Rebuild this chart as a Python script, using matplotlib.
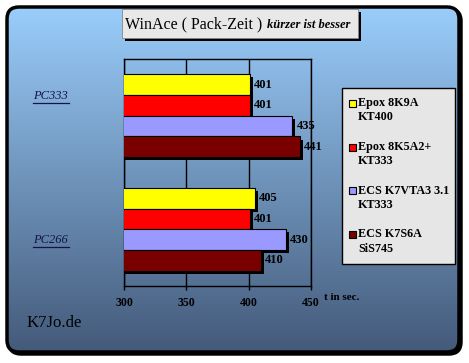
import numpy as np
import matplotlib
matplotlib.use('Agg')
import matplotlib.pyplot as plt
from matplotlib.patches import FancyBboxPatch, Rectangle
import matplotlib.patheffects as pe
from matplotlib.colors import to_rgb

# ---------------- data ----------------
categories = ['PC333', 'PC266']
series = ['Epox 8K9A\nKT400', 'Epox 8K5A2+\nKT333',
          'ECS K7VTA3 3.1\nKT333', 'ECS K7S6A\nSiS745']
values = [[401, 405],   # Epox 8K9A
          [401, 401],   # Epox 8K5A2+
          [435, 430],   # ECS K7VTA3
          [441, 410]]   # ECS K7S6A
colors = ['#FFFF00', '#FF0000', '#9999FF', '#7A0000']
x_ticks = [300, 350, 400, 450]
title_main = 'WinAce ( Pack-Zeit )'
title_sub = 'kürzer ist besser'
x_unit = 't in sec.'
credit = 'K7Jo.de'

plt.rcParams['font.family'] = ['Liberation Serif', 'DejaVu Serif']

W, H = 469, 363
fig = plt.figure(figsize=(W / 100, H / 100), dpi=100)
fig.patch.set_facecolor('white')

# background axes in pixel coordinates
bg = fig.add_axes([0, 0, 1, 1], zorder=0)
bg.set_xlim(0, W)
bg.set_ylim(H, 0)
bg.axis('off')

# frame with shadow
fx0, fy0, fx1, fy1 = 7, 7, 459, 352
shadow = FancyBboxPatch((fx0 + 2, fy0 + 2), fx1 - fx0, fy1 - fy0,
                        boxstyle='round,pad=0,rounding_size=12',
                        fc='black', ec='black', lw=2.5, zorder=1)
bg.add_patch(shadow)
frame = FancyBboxPatch((fx0, fy0), fx1 - fx0, fy1 - fy0,
                       boxstyle='round,pad=0,rounding_size=12',
                       fc='none', ec='black', lw=2.5, zorder=3)
bg.add_patch(frame)
top_c = np.array(to_rgb('#9ACDFB'))
bot_c = np.array(to_rgb('#445A7A'))
t = np.linspace(0, 1, 256)[:, None]
grad = (top_c[None, :] * (1 - t) + bot_c[None, :] * t)[:, None, :]
im = bg.imshow(grad, extent=[fx0, fx1, fy1, fy0], aspect='auto', zorder=2,
               interpolation='bilinear')
clip = FancyBboxPatch((fx0, fy0), fx1 - fx0, fy1 - fy0,
                      boxstyle='round,pad=0,rounding_size=12',
                      fc='none', ec='none', transform=bg.transData)
im.set_clip_path(clip)

# title box
bg.add_patch(Rectangle((125, 12), 236, 29, fc='black', ec='none', zorder=4))
bg.add_patch(Rectangle((122, 9), 236, 29, fc='#E8E8E8', ec='#888888',
                       lw=0.6, zorder=5))
bg.text(125, 24.5, title_main, fontsize=11.5, va='center', ha='left', zorder=6)
bg.text(267, 25.5, title_sub, fontsize=9, fontweight='bold', style='italic',
        va='center', ha='left', zorder=6)

# main axes
ax = fig.add_axes([124 / W, 1 - 286 / H, 187 / W, 227 / H], zorder=2)
ax.set_facecolor('none')
h = 0.1825
ypos_base = np.arange(len(categories))
for j, (ser, vals, col) in enumerate(zip(series, values, colors)):
    ys = ypos_base + (j - 1.5) * h
    ax.barh(ys, vals, height=h, color=col, edgecolor='black', linewidth=0.8,
            zorder=3,
            path_effects=[pe.SimplePatchShadow(offset=(2.2, -2.2),
                                               shadow_rgbFace='black',
                                               alpha=1.0),
                          pe.Normal()])
    for y, v in zip(ys, vals):
        ax.annotate(str(v), (v, y), xytext=(3, 0), textcoords='offset points',
                    va='center', ha='left', fontsize=9, fontweight='bold',
                    zorder=4)
ax.set_xlim(x_ticks[0], x_ticks[-1])
ax.set_ylim(1.5, -0.5)
ax.set_xticks(x_ticks)
ax.set_yticks([])
ax.grid(axis='x', color='black', lw=1)
ax.set_axisbelow(True)
for s in ax.spines.values():
    s.set_color('black')
    s.set_linewidth(1)
ax.tick_params(axis='x', direction='out', length=3, width=1, pad=5,
               labelsize=8.5, colors='black')
for lab in ax.get_xticklabels():
    lab.set_fontweight('bold')

# x unit label and credit
bg.text(324, 298, x_unit, fontsize=8, fontweight='bold', ha='left',
        va='center', zorder=6)
bg.text(27, 323, credit, fontsize=12, ha='left', va='center', zorder=6)

# category labels (underlined, italic)
cat_y = [96, 240]
cat_texts = []
for cat, y in zip(categories, cat_y):
    cat_texts.append(bg.text(33, y, cat, fontsize=9, style='italic',
                             color='#14144A', ha='left', va='center', zorder=6))

# legend
bg.add_patch(Rectangle((342, 88), 113, 176, fc='#E6E6E6', ec='black',
                       lw=1, zorder=5))
leg_y = [103, 147, 190.5, 234]
for ser, col, y in zip(series, colors, leg_y):
    bg.add_patch(Rectangle((348.5, y - 3.5), 7, 7, fc=col, ec='black',
                           lw=0.8, zorder=6))
    for k, line in enumerate(ser.split('\n')):
        bg.text(358, y + k * 14.5, line, fontsize=8.7, fontweight='bold',
                ha='left', va='center', zorder=6)

fig.canvas.draw()
inv = bg.transData.inverted()
for tx in cat_texts:
    bb = tx.get_window_extent()
    (x0, y0), (x1, y1) = inv.transform([[bb.x0, bb.y0], [bb.x1, bb.y1]])
    bg.plot([x0, x1 + 1], [y0 + 0.5, y0 + 0.5], color='#14144A', lw=0.9,
            zorder=6)

fig.savefig('out.png', dpi=100)
